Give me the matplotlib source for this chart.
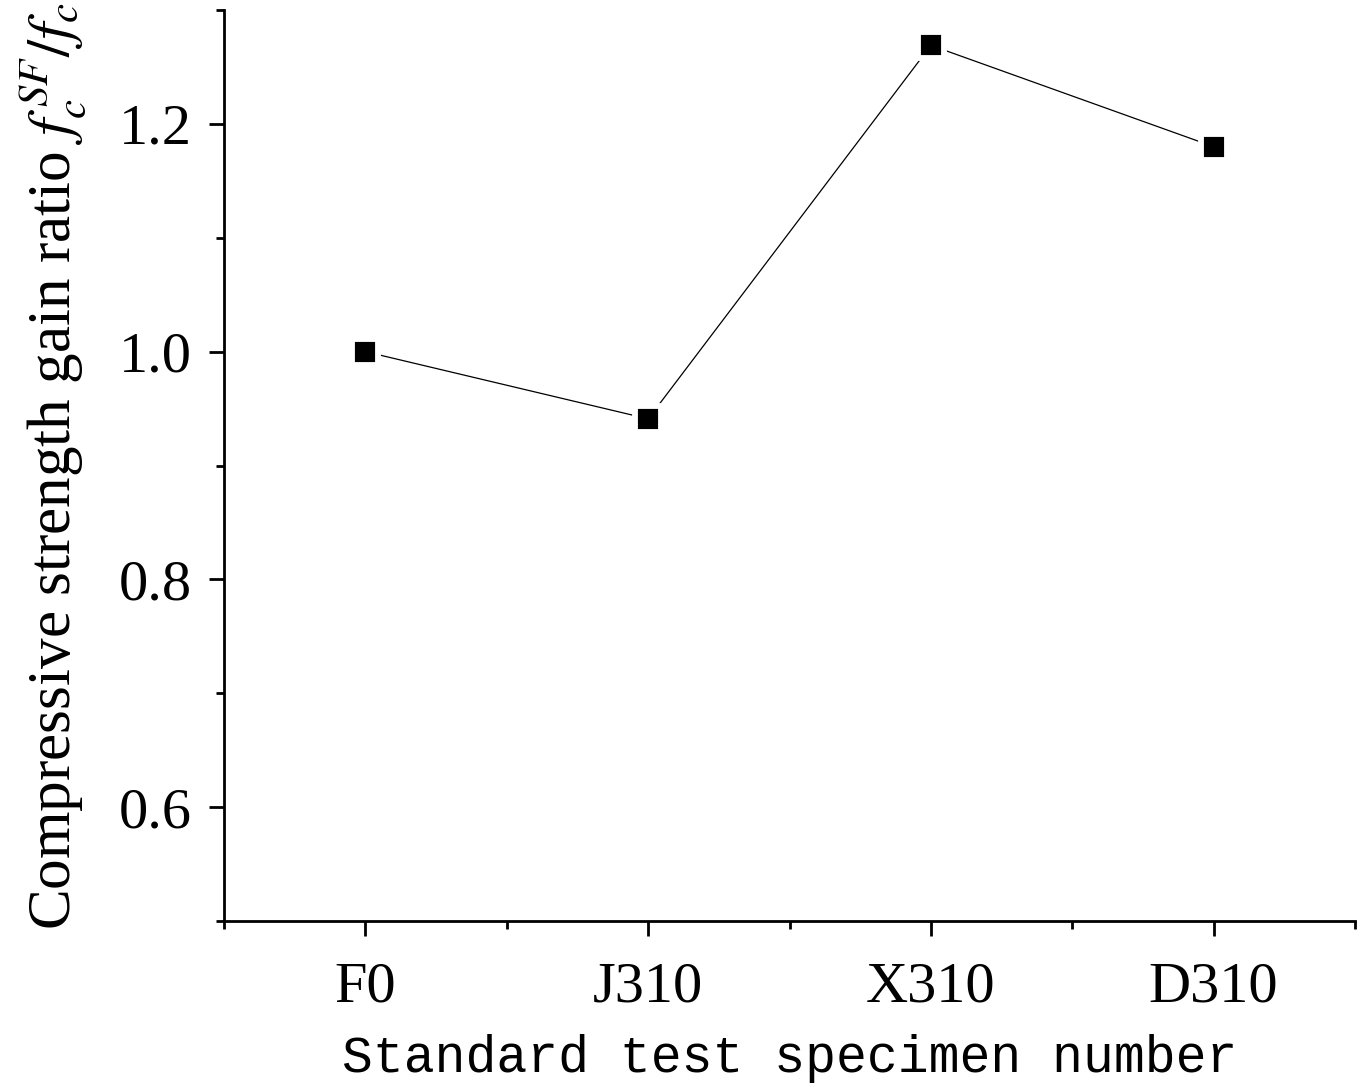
import matplotlib
matplotlib.use("Agg")
import matplotlib.pyplot as plt
from matplotlib.ticker import MultipleLocator, FixedLocator

# data
specimens = ["F0", "J310", "X310", "D310"]
gain_ratio = [1.00, 0.941, 1.269, 1.180]

plt.rcParams["mathtext.fontset"] = "stix"

fig = plt.figure(figsize=(13.62, 10.91), dpi=100)
ax = fig.add_axes([0.1645, 0.1558, 0.8304, 0.8350])

x = list(range(1, len(specimens) + 1))
ax.plot(x, gain_ratio, "-", color="black", lw=0.9, zorder=2)
ax.plot(x, gain_ratio, "s", color="black", ms=18.5, mec="white", mew=4.2,
        zorder=3, clip_on=False)

ax.set_xlim(0.5, 4.5)
ax.set_ylim(0.5, 1.3)

ax.xaxis.set_major_locator(FixedLocator(x))
ax.xaxis.set_minor_locator(FixedLocator([0.5, 1.5, 2.5, 3.5, 4.5]))
ax.set_xticklabels(specimens)
ax.yaxis.set_major_locator(FixedLocator([0.6, 0.8, 1.0, 1.2]))
ax.yaxis.set_minor_locator(MultipleLocator(0.1))
ax.set_yticklabels(["0.6", "0.8", "1.0", "1.2"])

for side in ("top", "right"):
    ax.spines[side].set_visible(False)
for side in ("left", "bottom"):
    ax.spines[side].set_linewidth(2.0)

ax.tick_params(which="major", direction="out", length=11, width=2.0,
               labelsize=42)
ax.tick_params(axis="y", which="major", pad=12)
ax.tick_params(axis="x", which="major", pad=18)
ax.tick_params(which="minor", direction="out", length=6, width=2.0)
for lab in ax.get_xticklabels() + ax.get_yticklabels():
    lab.set_family("Liberation Serif")

ax.set_xlabel("Standard test specimen number", family="Liberation Mono",
              fontsize=37, labelpad=15)
ax.set_ylabel(r"Compressive strength gain ratio $f_c^{\,SF}/f_c$",
              family="Liberation Serif", fontsize=44, labelpad=22)

fig.savefig("out.png", dpi=100)
